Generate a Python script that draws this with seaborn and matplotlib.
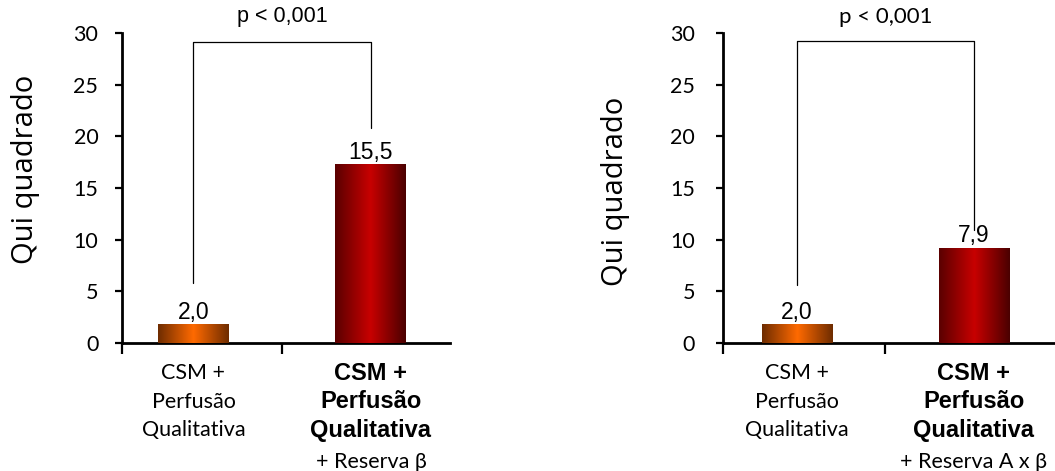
import numpy as np
import matplotlib
matplotlib.use("Agg")
import matplotlib.pyplot as plt
from matplotlib.colors import LinearSegmentedColormap
from matplotlib.transforms import blended_transform_factory
import pandas as pd
import seaborn as sns

# ==========================================
# Dados
# ==========================================
modelos = ["Base", "Completo"]
altura_esq = [1.8, 17.3]          # altura desenhada das barras (painel esquerdo)
altura_dir = [1.8, 9.2]           # altura desenhada das barras (painel direito)
rotulos_esq = ["2,0", "15,5"]
rotulos_dir = ["2,0", "7,9"]
linhas_base = ["CSM +", "Perfusão", "Qualitativa"]
linhas_comp = ["CSM +", "Perfusão", "Qualitativa"]
extra_esq = "+ Reserva β"
extra_dir = "+ Reserva A x β"
p_texto = "p < 0,001"
y_ticks = [0, 5, 10, 15, 20, 25, 30]
# colchete: altura do topo e da base de cada perna
colchete_esq = [29.1, 5.8, 20.8]
colchete_dir = [29.2, 5.6, 10.9]

gradientes = [["#6e2c00", "#ff6a00", "#6e2c00"],
              ["#5a0000", "#c80000", "#4a0000"]]

sns.set_theme(style="white")
plt.rcParams["font.family"] = ["Liberation Sans", "DejaVu Sans"]
plt.rcParams.update({"text.color": "black", "axes.labelcolor": "black",
                     "xtick.color": "black", "ytick.color": "black"})

fig = plt.figure(figsize=(10.55, 4.71), dpi=100)
ax1 = fig.add_axes([0.1156, 0.2718, 0.3109, 0.6582])
ax2 = fig.add_axes([0.6853, 0.2718, 0.3147, 0.6582])


def painel(ax, alturas, rotulos, extra, colchete, xlim, ylab_xy, pad_y, p_font):
    df = pd.DataFrame({"modelo": modelos, "valor": alturas})
    sns.barplot(data=df, x="modelo", y="valor", ax=ax, width=0.4,
                color="white", edgecolor="none", linewidth=0)

    # gradiente horizontal em cada barra
    for patch, cores in zip(ax.patches, gradientes):
        x0, y0 = patch.get_x(), patch.get_y()
        w, h = patch.get_width(), patch.get_height()
        cmap = LinearSegmentedColormap.from_list("g", cores)
        im = ax.imshow(np.linspace(0, 1, 256).reshape(1, -1), cmap=cmap,
                       extent=[x0, x0 + w, y0, y0 + h], aspect="auto", zorder=3)
        im.set_clip_path(patch)
        patch.set_zorder(2)
    ax.set_xlim(*xlim)
    ax.set_ylim(0, 30)

    # rótulos de valor
    for i, (v, r) in enumerate(zip(alturas, rotulos)):
        ax.text(i, v + 0.05, r, ha="center", va="bottom", fontsize=16.5,
                family="Liberation Sans", color="black", zorder=4)

    # colchete de significância
    topo, b0, b1 = colchete
    ax.plot([0, 0, 1, 1], [b0, topo, topo, b1], color="black", lw=0.9,
            clip_on=False, zorder=4)
    ax.text(0.5, 30.6, p_texto, ha="center", va="bottom", fontsize=p_font[0],
            family=p_font[1], color="black", clip_on=False)

    # eixos estilo Excel
    sns.despine(ax=ax, top=True, right=True)
    for s in ["left", "bottom"]:
        ax.spines[s].set_linewidth(2)
        ax.spines[s].set_color("black")
    ax.set_yticks(y_ticks)
    ax.tick_params(axis="y", direction="out", length=5, width=1.6,
                   left=True, pad=pad_y, labelsize=15.5, labelcolor="black")
    for lab in ax.get_yticklabels():
        lab.set_family("Lato")
    ax.set_xticks([xlim[0], 0.5], minor=True)
    ax.tick_params(axis="x", which="minor", direction="out", length=8,
                   width=1.6, bottom=True)
    ax.set_xticks([0, 1])
    ax.set_xticklabels([])
    ax.tick_params(axis="x", which="major", length=0)
    ax.set_xlabel("")
    ax.set_ylabel("Qui quadrado", fontsize=21, family="Open Sans", color="black")
    ax.yaxis.set_label_coords(*ylab_xy)

    # rótulos das categorias
    tr = blended_transform_factory(ax.transData, ax.transAxes)
    ys = [-0.098, -0.19, -0.281]
    for y, t in zip(ys, linhas_base):
        ax.text(0, y, t, transform=tr, ha="center", va="center",
                fontsize=15.5, family="Lato", color="black")
    for y, t in zip(ys, linhas_comp):
        ax.text(1, y, t, transform=tr, ha="center", va="center",
                fontsize=17, fontweight="bold", family="Liberation Sans",
                color="black")
    ax.text(1, -0.384, extra, transform=tr, ha="center", va="center",
            fontsize=15.5, family="Lato", color="black")


painel(ax1, altura_esq, rotulos_esq, extra_esq, colchete_esq,
       (-0.403, 1.445), (-0.25, 0.56), 12, (15.5, "Liberation Sans"))
painel(ax2, altura_dir, rotulos_dir, extra_dir, colchete_dir,
       (-0.418, 1.458), (-0.28, 0.49), 15, (16, "Lato"))

plt.savefig("out.png", dpi=100)
